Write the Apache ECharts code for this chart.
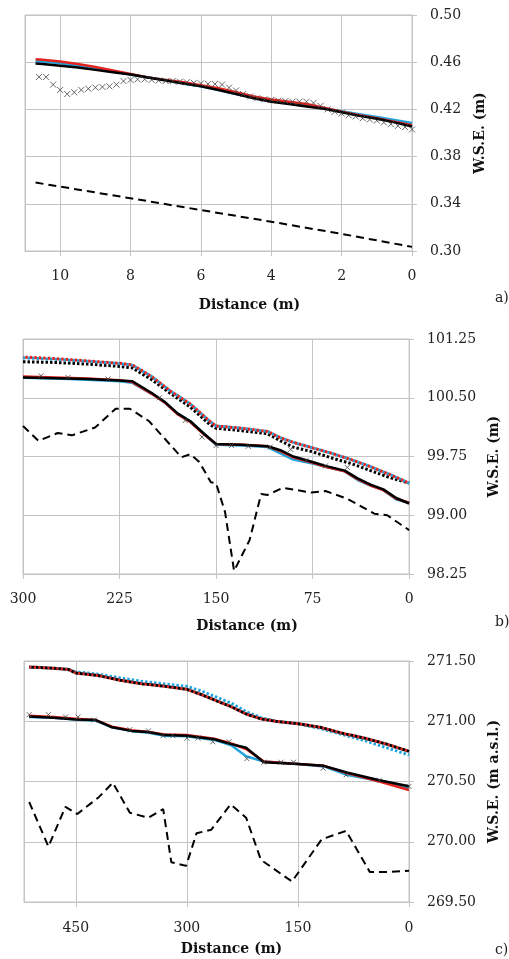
<!DOCTYPE html>
<html>
<head>
<meta charset="utf-8">
<script src="https://cdn.jsdelivr.net/npm/echarts@6/dist/echarts.min.js"></script>
<style>html,body{margin:0;padding:0;background:#fff;}#c{width:509px;height:959px;}</style>
</head>
<body>
<div id="c"></div>
<script>
// ---------- Panel a ----------
const aDist = [10.7, 10.5, 10, 9.5, 9, 8.5, 8, 7.5, 7, 6.5, 6, 5.5, 5, 4.5, 4, 3.5, 3, 2.5, 2, 1.5, 1, 0.5, 0];
const aRed = [0.4625, 0.462, 0.4605, 0.4585, 0.456, 0.453, 0.450, 0.447, 0.445, 0.443, 0.4405, 0.438, 0.4345, 0.431, 0.4285, 0.4265, 0.4245, 0.4215, 0.418, 0.415, 0.4125, 0.4095, 0.4065];
const aBlue = [0.461, 0.4605, 0.459, 0.457, 0.455, 0.4525, 0.4495, 0.447, 0.445, 0.442, 0.4395, 0.4365, 0.433, 0.430, 0.4275, 0.4255, 0.4235, 0.421, 0.4185, 0.416, 0.4135, 0.411, 0.4085];
const aBlack = [0.459, 0.4585, 0.457, 0.4555, 0.4535, 0.4515, 0.4495, 0.447, 0.4445, 0.442, 0.4395, 0.4365, 0.433, 0.4295, 0.4265, 0.4245, 0.4225, 0.4205, 0.4175, 0.4145, 0.412, 0.409, 0.4055];
const aBedDist = [10.7, 8, 6, 4, 2, 0];
const aBed = [0.358, 0.3447, 0.3347, 0.3248, 0.3145, 0.3035];
const aObsDist = [10.6, 10.4, 10.2, 10.0, 9.8, 9.6, 9.4, 9.2, 9.0, 8.8, 8.6, 8.4, 8.2, 8.0, 7.8, 7.6, 7.4, 7.2, 7.0, 6.8, 6.6, 6.4, 6.2, 6.0, 5.8, 5.6, 5.4, 5.2, 5.0, 4.8, 4.6, 4.4, 4.2, 4.0, 3.8, 3.6, 3.4, 3.2, 3.0, 2.8, 2.6, 2.4, 2.2, 2.0, 1.8, 1.6, 1.4, 1.2, 1.0, 0.8, 0.6, 0.4, 0.2, 0.0];
const aObs = [0.4475, 0.4475, 0.441, 0.4365, 0.433, 0.4345, 0.4365, 0.4375, 0.4385, 0.439, 0.4395, 0.441, 0.444, 0.445, 0.4455, 0.4455, 0.445, 0.4445, 0.444, 0.444, 0.4435, 0.443, 0.4425, 0.442, 0.4415, 0.4415, 0.441, 0.4385, 0.436, 0.433, 0.431, 0.4295, 0.4285, 0.428, 0.4275, 0.427, 0.4265, 0.4265, 0.4265, 0.4255, 0.423, 0.420, 0.418, 0.4165, 0.415, 0.414, 0.4125, 0.4115, 0.4105, 0.409, 0.4075, 0.406, 0.405, 0.403];
const aYTicks = [0.30, 0.34, 0.38, 0.42, 0.46, 0.50];

// ---------- Panel b ----------
const bDist = [300, 275, 250, 225, 215, 200, 190, 180, 170, 160, 150, 130, 110, 100, 90, 75, 65, 50, 40, 30, 20, 10, 0];
const bRed = [100.77, 100.76, 100.745, 100.725, 100.70, 100.55, 100.44, 100.29, 100.19, 100.04, 99.91, 99.90, 99.88, 99.82, 99.74, 99.67, 99.62, 99.56, 99.46, 99.38, 99.32, 99.21, 99.16];
const bBlue = [100.755, 100.745, 100.73, 100.71, 100.69, 100.55, 100.44, 100.30, 100.20, 100.05, 99.90, 99.89, 99.87, 99.79, 99.71, 99.66, 99.62, 99.56, 99.45, 99.38, 99.32, 99.20, 99.16];
const bBlack = [100.76, 100.75, 100.74, 100.72, 100.71, 100.56, 100.45, 100.30, 100.20, 100.05, 99.91, 99.90, 99.88, 99.83, 99.75, 99.68, 99.63, 99.57, 99.47, 99.39, 99.33, 99.22, 99.15];
const bDistU = [300, 275, 250, 225, 215, 200, 185, 170, 155, 150, 130, 110, 100, 90, 75, 60, 45, 30, 15, 0];
const bRedU = [101.02, 101.00, 100.97, 100.94, 100.92, 100.77, 100.58, 100.42, 100.20, 100.14, 100.11, 100.07, 99.99, 99.93, 99.86, 99.79, 99.71, 99.62, 99.52, 99.41];
const bBlueU = [101.01, 100.99, 100.965, 100.935, 100.915, 100.77, 100.58, 100.42, 100.20, 100.14, 100.11, 100.07, 99.99, 99.93, 99.86, 99.79, 99.71, 99.62, 99.52, 99.41];
const bBlackU = [100.96, 100.95, 100.93, 100.90, 100.88, 100.73, 100.55, 100.38, 100.16, 100.11, 100.08, 100.04, 99.95, 99.87, 99.81, 99.73, 99.66, 99.57, 99.48, 99.41];
const bObsDist = [286, 265, 234, 194, 174, 161, 150, 138, 125, 108, 92, 80, 65, 48];
const bObs = [100.78, 100.76, 100.74, 100.50, 100.21, 100.00, 99.89, 99.89, 99.88, 99.87, 99.84, 99.70, 99.63, 99.61];
const bBedDist = [300, 288, 273, 262, 244, 228, 217, 202, 184, 177, 170, 163, 154, 150, 143, 136, 124, 115, 110, 98, 76, 65, 48, 27, 17, 0];
const bBed = [100.14, 99.95, 100.05, 100.02, 100.12, 100.36, 100.36, 100.20, 99.87, 99.74, 99.78, 99.68, 99.42, 99.41, 99.04, 98.29, 98.68, 99.27, 99.26, 99.35, 99.29, 99.31, 99.21, 99.02, 99.00, 98.81];

// ---------- Panel c ----------
const cDistU = [513, 480, 460, 450, 420, 390, 360, 330, 300, 280, 260, 240, 220, 200, 180, 150, 120, 90, 60, 30, 0];
const cRedU = [271.45, 271.44, 271.43, 271.40, 271.38, 271.34, 271.31, 271.29, 271.265, 271.22, 271.17, 271.12, 271.06, 271.02, 271.00, 270.98, 270.95, 270.90, 270.86, 270.81, 270.75];
const cBlackU = [271.45, 271.44, 271.43, 271.40, 271.38, 271.34, 271.31, 271.29, 271.265, 271.22, 271.17, 271.12, 271.06, 271.02, 271.00, 270.98, 270.95, 270.90, 270.86, 270.81, 270.75];
const cBlueU = [271.45, 271.44, 271.43, 271.41, 271.39, 271.36, 271.33, 271.31, 271.29, 271.25, 271.20, 271.15, 271.08, 271.03, 271.00, 270.98, 270.94, 270.89, 270.84, 270.78, 270.72];
const cDist = [513, 480, 450, 423, 401, 375, 352, 330, 300, 263, 240, 220, 196, 150, 115, 84, 40, 0];
const cRed = [271.045, 271.035, 271.02, 271.01, 270.955, 270.925, 270.91, 270.89, 270.885, 270.855, 270.815, 270.77, 270.665, 270.645, 270.63, 270.57, 270.50, 270.43];
const cBlue = [271.035, 271.03, 271.015, 271.005, 270.95, 270.92, 270.905, 270.88, 270.875, 270.845, 270.80, 270.71, 270.665, 270.645, 270.625, 270.555, 270.505, 270.45];
const cBlack = [271.04, 271.03, 271.015, 271.01, 270.95, 270.92, 270.91, 270.885, 270.88, 270.85, 270.81, 270.78, 270.66, 270.645, 270.63, 270.575, 270.51, 270.46];
const cObsDist = [513, 487, 464, 447, 425, 377, 352, 332, 319, 300, 285, 265, 243, 219, 196, 173, 156, 116, 85, 40, 0];
const cObs = [271.055, 271.055, 271.035, 271.035, 271.01, 270.93, 270.92, 270.88, 270.88, 270.86, 270.86, 270.83, 270.83, 270.69, 270.66, 270.66, 270.66, 270.61, 270.555, 270.51, 270.46];
const cBedDist = [513, 487, 464, 448, 419, 400, 377, 352, 332, 321, 301, 287, 267, 241, 220, 200, 158, 118, 85, 53, 26, 0];
const cBed = [270.33, 269.96, 270.29, 270.23, 270.37, 270.49, 270.24, 270.20, 270.27, 269.83, 269.80, 270.07, 270.10, 270.31, 270.20, 269.85, 269.67, 270.02, 270.09, 269.75, 269.75, 269.76];

const xTitle = 'Distance (m)';
const yTitles = ['W.S.E. (m)', 'W.S.E. (m)', 'W.S.E. (m a.s.l.)'];
const panelLabels = ['a)', 'b)', 'c)'];

const RED = '#e3231e', BLUE = '#1ea5de', BLACK = '#000000', OBS = '#444444', GRID = '#c4c4c4';
const FONT = 'DejaVu Serif';

function zip(xs, ys) { return xs.map((x, i) => [x, ys[i]]); }

function solid(idx, xs, ys, color, w) {
  return { type: 'line', xAxisIndex: idx, yAxisIndex: idx, data: zip(xs, ys), showSymbol: false, symbol: 'none',
    lineStyle: { color: color, width: w || 2.5 }, silent: true, animation: false, z: 3 };
}
function dotted(idx, xs, ys, color, offset) {
  return { type: 'line', xAxisIndex: idx, yAxisIndex: idx, data: zip(xs, ys), showSymbol: false, symbol: 'none',
    lineStyle: { color: color, width: 3, type: [2.5, 2], dashOffset: offset || 0, cap: 'butt' }, silent: true, animation: false, z: 3 };
}
function dashed(idx, xs, ys) {
  return { type: 'line', xAxisIndex: idx, yAxisIndex: idx, data: zip(xs, ys), showSymbol: false, symbol: 'none',
    lineStyle: { color: BLACK, width: 2, type: [8, 5] }, silent: true, animation: false, z: 3 };
}
function crosses(idx, xs, ys, size) {
  return { type: 'scatter', xAxisIndex: idx, yAxisIndex: idx, data: zip(xs, ys),
    symbol: 'path://M0,0L10,10M10,0L0,10', symbolSize: size || 6,
    itemStyle: { color: 'none', borderColor: OBS, borderWidth: 1 }, silent: true, animation: false, z: 4 };
}

const grids = [
  { left: 25, top: 15, width: 387, height: 236 },
  { left: 23, top: 339, width: 389, height: 235 },
  { left: 24, top: 661, width: 389, height: 241 }
].map(g => Object.assign(g, { show: true, borderColor: GRID, borderWidth: 1, containLabel: false }));

function xAxisDef(idx, max, interval, hideMax, nameGap, shift, margin) {
  return { type: 'value', gridIndex: idx, inverse: true, min: 0, max: max, interval: interval,
    axisLine: { show: true, onZero: false, lineStyle: { color: GRID, width: 1 } },
    axisTick: { show: true, length: 5, lineStyle: { color: GRID } },
    splitLine: { show: true, lineStyle: { color: GRID, width: 1 } },
    axisLabel: { fontFamily: FONT, fontSize: 14, color: '#222', margin: margin, showMaxLabel: !hideMax },
    name: xTitle, nameLocation: 'middle', nameGap: nameGap,
    nameTextStyle: { fontFamily: FONT, fontSize: 14, fontWeight: 'bold', color: '#111', padding: [0, 0, 0, shift * 2] } };
}
function yAxisDef(idx, min, max, interval, nameGap, custom) {
  const ax = { type: 'value', gridIndex: idx, position: 'right', min: min, max: max,
    axisLine: { show: true, lineStyle: { color: GRID, width: 1 } },
    axisTick: { show: true, length: 5, lineStyle: { color: GRID } },
    splitLine: { show: true, lineStyle: { color: GRID, width: 1 } },
    axisLabel: { fontFamily: FONT, fontSize: 14, color: '#222', margin: 18, formatter: v => v.toFixed(2) },
    name: yTitles[idx], nameLocation: 'middle', nameGap: nameGap,
    nameTextStyle: { fontFamily: FONT, fontSize: 14, fontWeight: 'bold', color: '#111' } };
  if (custom) {
    ax.axisTick.customValues = custom;
    ax.axisLabel.customValues = custom;
  } else {
    ax.interval = interval;
  }
  return ax;
}

const option = {
  backgroundColor: '#ffffff',
  animation: false,
  grid: grids,
  xAxis: [
    xAxisDef(0, 11, 2, true, 47, 31, 18),
    xAxisDef(1, 300, 75, false, 45, 31, 18),
    xAxisDef(2, 520, 150, true, 40, 15, 19)
  ],
  yAxis: [
    yAxisDef(0, 0.30, 0.50, null, 61, aYTicks),
    yAxisDef(1, 98.25, 101.25, 0.75, 71),
    yAxisDef(2, 269.5, 271.5, 0.5, 78)
  ],
  series: [
    dashed(0, aBedDist, aBed),
    solid(0, aDist, aBlue, BLUE),
    solid(0, aDist, aRed, RED),
    solid(0, aDist, aBlack, BLACK),
    crosses(0, aObsDist, aObs, 6),

    dashed(1, bBedDist, bBed),
    dotted(1, bDistU, bBlackU, BLACK, 0),
    dotted(1, bDistU, bBlueU, BLUE, 0),
    dotted(1, bDistU, bRedU, RED, 2.2),
    solid(1, bDist, bBlue, BLUE),
    solid(1, bDist, bRed, RED),
    solid(1, bDist, bBlack, BLACK),
    crosses(1, bObsDist, bObs, 5),

    dashed(2, cBedDist, cBed),
    dotted(2, cDistU, cBlueU, BLUE, 0),
    dotted(2, cDistU, cRedU, RED, 0),
    dotted(2, cDistU, cBlackU, BLACK, 2.2),
    solid(2, cDist, cBlue, BLUE),
    solid(2, cDist, cRed, RED),
    solid(2, cDist, cBlack, BLACK),
    crosses(2, cObsDist, cObs, 5)
  ],
  graphic: [
    { type: 'text', left: 495, top: 291, style: { text: panelLabels[0], font: '14px "DejaVu Serif"', fill: '#222' } },
    { type: 'text', left: 495, top: 615, style: { text: panelLabels[1], font: '14px "DejaVu Serif"', fill: '#222' } },
    { type: 'text', left: 495, top: 943, style: { text: panelLabels[2], font: '14px "DejaVu Serif"', fill: '#222' } }
  ]
};

const chart = echarts.init(document.getElementById('c'), null, { renderer: 'canvas' });
chart.setOption(option);
</script>
</body>
</html>
